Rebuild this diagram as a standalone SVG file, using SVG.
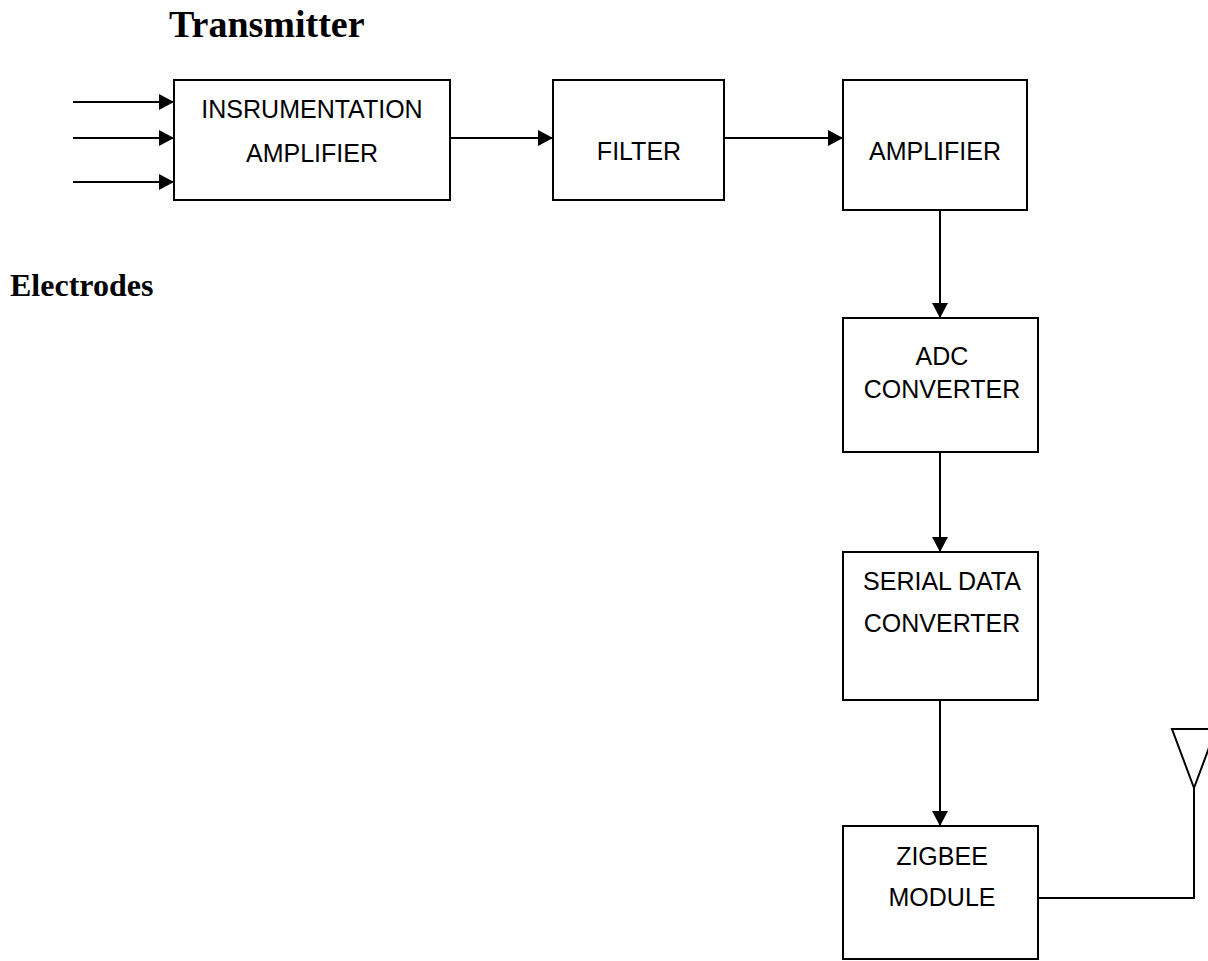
<svg xmlns="http://www.w3.org/2000/svg" width="1208" height="961" viewBox="0 0 1208 961">
<style>
.box{fill:#fff;stroke:#000;stroke-width:2}
.lbl{font-family:"Liberation Sans",Arial,sans-serif;font-size:25px;fill:#000;text-anchor:middle}
.ttl{font-family:"Liberation Serif","Times New Roman",serif;font-weight:bold;fill:#000}
.ln{stroke:#000;stroke-width:2;fill:none}
</style>
<defs>
<marker id="ah" viewBox="0 0 15 16" refX="15" refY="8" markerWidth="15" markerHeight="16" markerUnits="userSpaceOnUse" orient="auto">
<path d="M0,0 L15,8 L0,16 Z" fill="#000"/>
</marker>
</defs>
<rect width="1208" height="961" fill="#fff"/>
<text class="ttl" x="169" y="37" font-size="38">Transmitter</text>
<text class="ttl" x="10" y="296" font-size="32">Electrodes</text>
<g id="connectors">
<line class="ln" x1="73" y1="102" x2="174" y2="102" marker-end="url(#ah)"/>
<line class="ln" x1="73" y1="138" x2="174" y2="138" marker-end="url(#ah)"/>
<line class="ln" x1="73" y1="182" x2="174" y2="182" marker-end="url(#ah)"/>
<line class="ln" x1="450" y1="138" x2="553" y2="138" marker-end="url(#ah)"/>
<line class="ln" x1="724" y1="138" x2="843" y2="138" marker-end="url(#ah)"/>
<line class="ln" x1="940" y1="210" x2="940" y2="318" marker-end="url(#ah)"/>
<line class="ln" x1="940" y1="452" x2="940" y2="552" marker-end="url(#ah)"/>
<line class="ln" x1="940" y1="700" x2="940" y2="826" marker-end="url(#ah)"/>
<polyline class="ln" points="1038,898 1194,898 1194,788"/>
</g>
<g id="antenna">
<polygon class="ln" points="1172,729 1216,729 1194,788"/>
</g>
<g id="inst-amp">
<rect class="box" x="174" y="80" width="276" height="120"/>
<text class="lbl" x="312" y="118">INSRUMENTATION</text>
<text class="lbl" x="312" y="162">AMPLIFIER</text>
</g>
<g id="filter">
<rect class="box" x="553" y="80" width="171" height="120"/>
<text class="lbl" x="639" y="160">FILTER</text>
</g>
<g id="amplifier">
<rect class="box" x="843" y="80" width="184" height="130"/>
<text class="lbl" x="935" y="160">AMPLIFIER</text>
</g>
<g id="adc">
<rect class="box" x="843" y="318" width="195" height="134"/>
<text class="lbl" x="942" y="365">ADC</text>
<text class="lbl" x="942" y="398">CONVERTER</text>
</g>
<g id="serial">
<rect class="box" x="843" y="552" width="195" height="148"/>
<text class="lbl" x="942" y="590">SERIAL DATA</text>
<text class="lbl" x="942" y="632">CONVERTER</text>
</g>
<g id="zigbee">
<rect class="box" x="843" y="826" width="195" height="133"/>
<text class="lbl" x="942" y="865">ZIGBEE</text>
<text class="lbl" x="942" y="906">MODULE</text>
</g>
</svg>
